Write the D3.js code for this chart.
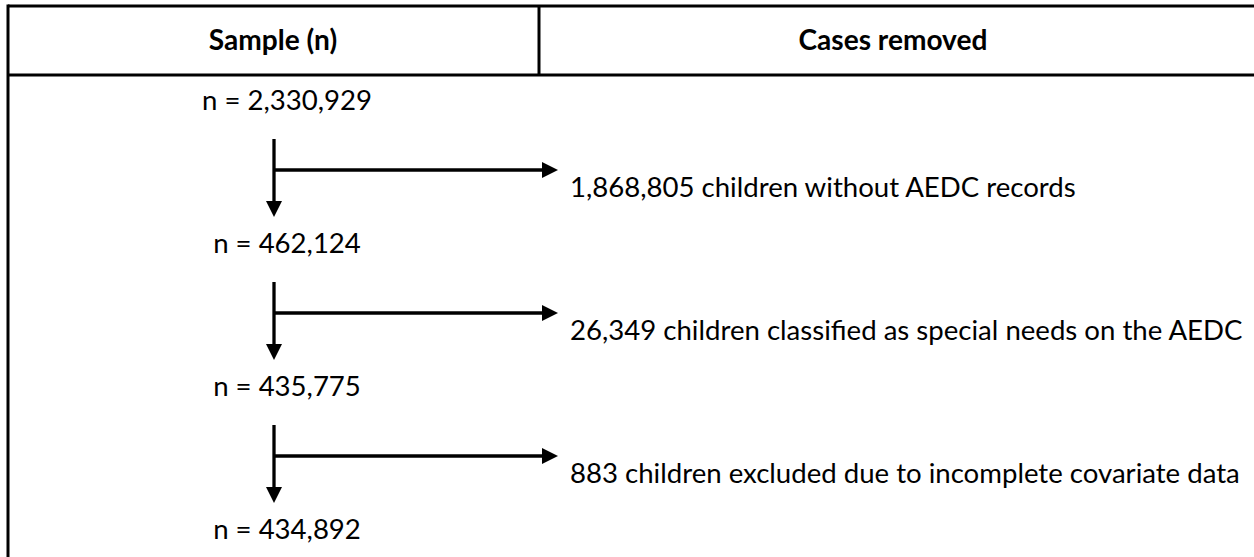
<!DOCTYPE html>
<style>
body { margin: 0; background: #fff; }
svg { display: block; }
text { font-family: Lato, "Open Sans", sans-serif; fill: #000; }
</style>
<svg width="1254" height="557"></svg>
<script src="https://d3js.org/d3.v7.min.js"></script>
<script>
// flow steps
var headers = ["Sample (n)", "Cases removed"];
var samples = [2330929, 462124, 435775, 434892];
var removed = [1868805, 26349, 883];
var reasons = ["children without AEDC records",
               "children classified as special needs on the AEDC",
               "children excluded due to incomplete covariate data"];

var svg = d3.select("svg"),
    W = +svg.attr("width"),
    H = +svg.attr("height"),
    fmt = d3.format(",");

var y = d3.scaleLinear().domain([0, samples.length - 1]).range([100, 529]);
var colX = d3.scaleOrdinal().domain(headers).range([273, 893]);

var frameLeft = 8, frameTop = 6, headBottom = 75, divider = 539;
var stemX = 274, textX = 570, tipX = 558;

// table frame
var frame = svg.append("g").attr("stroke", "#000").attr("stroke-width", 3);
frame.append("line").attr("x1", frameLeft).attr("x2", W).attr("y1", frameTop).attr("y2", frameTop);
frame.append("line").attr("x1", frameLeft).attr("x2", W).attr("y1", headBottom).attr("y2", headBottom);
frame.append("line").attr("x1", frameLeft).attr("x2", frameLeft).attr("y1", frameTop - 1.5).attr("y2", H);
frame.append("line").attr("x1", divider).attr("x2", divider).attr("y1", frameTop).attr("y2", headBottom);

// fit font size to the reference width of the longest removal line
var probe = svg.append("text").attr("font-size", 20).text(fmt(removed[2]) + " " + reasons[2]);
var fs = 20 * 670 / probe.node().getComputedTextLength();
probe.remove();

svg.append("g").selectAll("text")
  .data(headers)
  .join("text")
    .attr("x", function(d) { return colX(d); })
    .attr("y", (frameTop + headBottom) / 2)
    .attr("dy", "0.35em")
    .attr("text-anchor", "middle")
    .attr("font-weight", "bold")
    .attr("font-size", fs + 0.5)
    .text(function(d) { return d; });

svg.append("g").selectAll("text")
  .data(samples)
  .join("text")
    .attr("x", 287)
    .attr("y", function(d, i) { return y(i); })
    .attr("dy", "0.35em")
    .attr("text-anchor", "middle")
    .attr("font-size", fs)
    .text(function(d) { return "n = " + fmt(d); });

var step = svg.append("g").selectAll("g")
  .data(removed)
  .join("g");

// down stem + head
step.append("line")
    .attr("x1", stemX).attr("x2", stemX)
    .attr("y1", function(d, i) { return y(i) + 39; })
    .attr("y2", function(d, i) { return y(i) + 103; })
    .attr("stroke", "#000").attr("stroke-width", 3.3);
step.append("path")
    .attr("d", function(d, i) {
      var t = y(i) + 117;
      return "M" + (stemX - 8) + "," + (t - 16) + "L" + (stemX + 8) + "," + (t - 16) + "L" + stemX + "," + t + "Z";
    })
    .attr("fill", "#000");

// side branch + head
step.append("line")
    .attr("x1", stemX).attr("x2", tipX - 14)
    .attr("y1", function(d, i) { return y(i) + 70; })
    .attr("y2", function(d, i) { return y(i) + 70; })
    .attr("stroke", "#000").attr("stroke-width", 3.3);
step.append("path")
    .attr("d", function(d, i) {
      var c = y(i) + 70;
      return "M" + (tipX - 16) + "," + (c - 8) + "L" + tipX + "," + c + "L" + (tipX - 16) + "," + (c + 8) + "Z";
    })
    .attr("fill", "#000");

step.append("text")
    .attr("x", textX)
    .attr("y", function(d, i) { return y(i) + 87; })
    .attr("dy", "0.35em")
    .attr("font-size", fs)
    .text(function(d, i) { return fmt(d) + " " + reasons[i]; });
</script>
